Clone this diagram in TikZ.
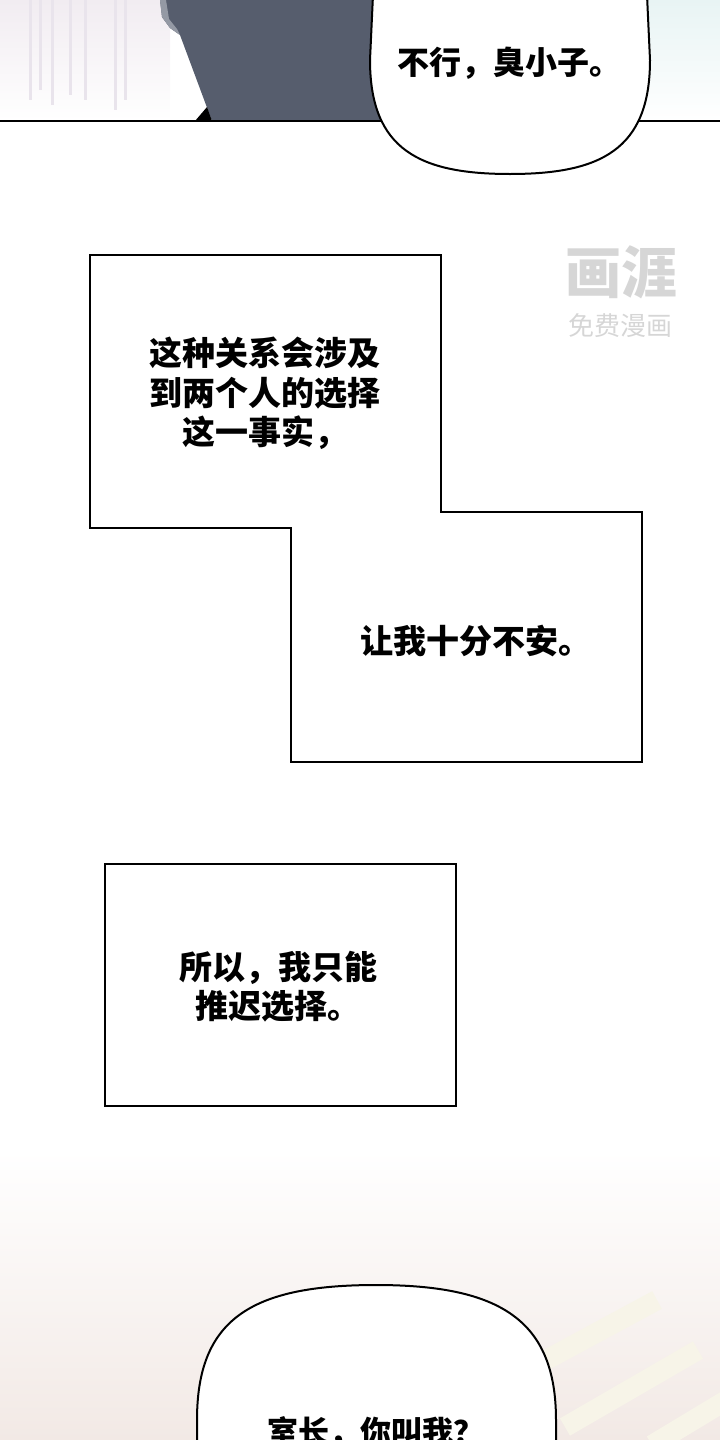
\documentclass[tikz,border=0pt]{standalone}
\usepackage{fontspec}
\newfontfamily\cjk{Noto Sans CJK SC}
\definecolor{coat}{HTML}{565D6D}
\definecolor{seam}{HTML}{9499A4}
\definecolor{haze}{HTML}{F1ECF1}
\definecolor{streak}{HTML}{E9E4EC}
\definecolor{mint}{HTML}{E8F4F4}
\definecolor{blush}{HTML}{F2E9E5}
\definecolor{cream}{HTML}{F7F4E8}
\definecolor{stampgray}{HTML}{D6D6D6}
\begin{document}
\begin{tikzpicture}[x=1pt,y=-1pt,
    rule/.style={line width=2pt,line join=miter},
    balloon/.style={draw,fill=white,line width=2pt},
    panel/.style={fill=white,inner sep=0pt},
    say/.style={font=\cjk\bfseries\fontsize{33}{39.5}\selectfont,align=center,inner sep=0pt},
    stamp/.style={text=stampgray,inner sep=0pt}]
        \useasboundingbox (0,0) rectangle (720,1440);
        \clip (0,0) rectangle (720,1440);

        % top strip
        \shade[top color=haze,bottom color=white] (0,0) rectangle (170,121);
        \draw[streak,line width=3pt] (30,0) -- (30,100) (40,0) -- (40,90) (52,0) -- (52,105)
            (70,0) -- (70,95) (85,0) -- (85,100) (115,0) -- (115,110) (125,0) -- (125,100);
        \shade[top color=mint,bottom color=white] (600,0) rectangle (720,121);
        \fill[coat] (160,0) -- (162,17) -- (170,28) -- (180,35) -- (212,121) -- (420,121) -- (420,0) -- cycle;
        \fill[seam] (160,0) -- (162,17) -- (170,28) -- (180,35) -- (177,29) -- (169,19) -- (166,0) -- cycle;
        \fill[black] (195,121) -- (207,107) -- (212,121) -- cycle;
        \draw[rule] (0,121) -- (720,121);
        \draw[balloon] (373,-5) -- (370,60) .. controls (370,150) and (420,174) .. (510,174)
            .. controls (600,174) and (650,150) .. (650,60) -- (647,-5);
        \node[say,font=\cjk\bfseries\fontsize{32}{38}\selectfont] (7) at (509,63) {不行，臭小子。};

        % watermark
        \node[stamp,font=\cjk\bfseries\fontsize{56}{56}\selectfont] (9) at (621,272) {画涯};
        \node[stamp,font=\cjk\fontsize{26}{26}\selectfont] (10) at (620,326) {免费漫画};

        % panels
        \node[panel,minimum width=351pt,minimum height=273pt] (1) at (265.5,391.5) {};
        \node[panel,minimum width=351pt,minimum height=250pt] (2) at (466.5,637) {};
        \draw[rule] (1.north west) -- (1.north east) -- (1.east |- 2.north) -- (2.north east)
            -- (2.south east) -- (2.south west) -- (2.west |- 1.south) -- (1.south west) -- cycle;
        \node[panel,draw,rule,minimum width=351pt,minimum height=242pt] (3) at (280.5,985) {};

        \node[say] (4) at (265,393.5) {这种关系会涉及\\到两个人的选择\\这一事实，};
        \node[say] (5) at (476,641) {让我十分不安。};
        \node[say] (6) at (278,986.5) {所以，我只能\\推迟选择。};

        % bottom strip
        \shade[top color=white,bottom color=blush] (0,1150) rectangle (720,1440);
        \draw[cream,line width=20pt] (546,1360) -- (657,1300) (565,1427) -- (698,1350) (652,1445) -- (730,1398);
        \draw[balloon] (197,1450) -- (197,1420) .. controls (197,1320) and (250,1285) .. (376,1285)
            .. controls (500,1285) and (556,1320) .. (556,1420) -- (556,1450);
        \node[say,font=\cjk\bfseries\fontsize{31}{37}\selectfont] (8) at (376,1432) {室长，你叫我？};

\end{tikzpicture}
\end{document}
